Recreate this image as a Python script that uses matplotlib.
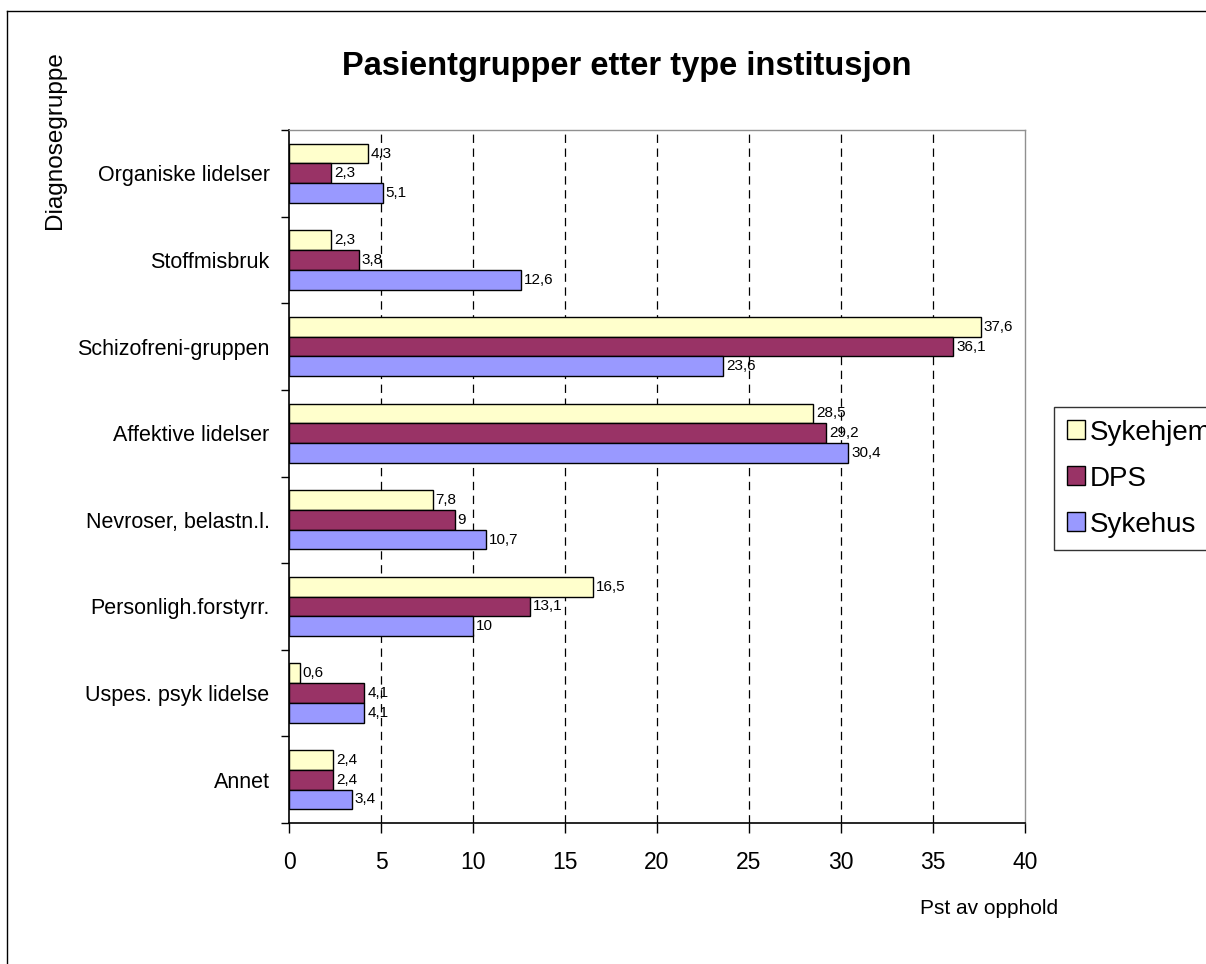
import numpy as np
import matplotlib
matplotlib.use("Agg")
import matplotlib.pyplot as plt
from matplotlib.lines import Line2D

plt.rcParams['font.family'] = ['Liberation Sans', 'DejaVu Sans']
plt.rcParams['lines.scale_dashes'] = False

# Diagnosis groups, top to bottom
categories = ["Organiske lidelser", "Stoffmisbruk", "Schizofreni-gruppen",
              "Affektive lidelser", "Nevroser, belastn.l.", "Personligh.forstyrr.",
              "Uspes. psyk lidelse", "Annet"]
sykehjem = [4.3, 2.3, 37.6, 28.5, 7.8, 16.5, 0.6, 2.4]
dps = [2.3, 3.8, 36.1, 29.2, 9, 13.1, 4.1, 2.4]
sykehus = [5.1, 12.6, 23.6, 30.4, 10.7, 10, 4.1, 3.4]
series_names = ["Sykehjem", "DPS", "Sykehus"]
colors = ["#FFFFCC", "#993366", "#9999FF"]
xticks = [0, 5, 10, 15, 20, 25, 30, 35, 40]

W, H = 1206, 964
fig = plt.figure(figsize=(W / 100, H / 100), dpi=100)
ax = fig.add_axes([289 / W, 1 - 823 / H, (1025 - 289) / W, (823 - 130) / H])

y = np.arange(len(categories))
bh = 0.228
offsets = [-bh, 0, bh]
for vals, off, col, name in zip([sykehjem, dps, sykehus], offsets, colors, series_names):
    bars = ax.barh(y + off, vals, height=bh, color=col, edgecolor="black",
                   linewidth=1.0, label=name, zorder=3)
    for b, v in zip(bars, vals):
        txt = f"{v:g}".replace(".", ",")
        ax.annotate(txt, (v, b.get_y() + b.get_height() / 2),
                    xytext=(2, 0), textcoords="offset points",
                    va="center", ha="left", fontsize=11, zorder=4)

ax.set_xlim(0, 40)
ax.set_ylim(len(categories) - 0.5, -0.5)
ax.set_xticks(xticks)
ax.set_xticklabels([str(t) for t in xticks], fontsize=16.5)
ax.tick_params(axis="x", length=7, width=1, pad=13, direction="out")

ax.set_yticks(y)
ax.set_yticklabels(categories, fontsize=15.5)
ax.tick_params(axis="y", which="major", length=0, pad=14)
ax.set_yticks(np.arange(-0.5, len(categories), 1), minor=True)
ax.tick_params(axis="y", which="minor", length=6, width=1, direction="out")

# dashed vertical gridlines
for t in xticks[1:-1]:
    ax.axvline(t, color="black", linestyle=(0, (6, 4)), linewidth=0.9, zorder=1)

for side in ["top", "right"]:
    ax.spines[side].set_color("#909090")
    ax.spines[side].set_linewidth(1.0)
for side in ["left", "bottom"]:
    ax.spines[side].set_color("black")
    ax.spines[side].set_linewidth(1.2)

fig.text(627 / W, 1 - 67 / H, "Pasientgrupper etter type institusjon",
         ha="center", va="center", fontsize=23.5, fontweight="bold")
fig.text(55 / W, 1 - 140 / H, "Diagnosegruppe", rotation=90,
         ha="center", va="center", fontsize=17.5)
fig.text(920 / W, 1 - 908 / H, "Pst av opphold", ha="left", va="center",
         fontsize=15)

leg = fig.legend(loc="upper left", bbox_to_anchor=(1054 / W, 1 - 407 / H),
                 fontsize=20, frameon=True, fancybox=False, edgecolor="black",
                 handlelength=0.68, handleheight=0.68, handletextpad=0.15,
                 labelspacing=0.72, borderpad=0.45, borderaxespad=0)
leg.get_frame().set_linewidth(1.0)

# outer chart frame
fig.add_artist(Line2D([7 / W, 7 / W], [0, 1 - 11 / H], color="black", lw=1.0))
fig.add_artist(Line2D([7 / W, 1], [1 - 11 / H, 1 - 11 / H], color="black", lw=1.0))

fig.savefig("out.png", dpi=100)
